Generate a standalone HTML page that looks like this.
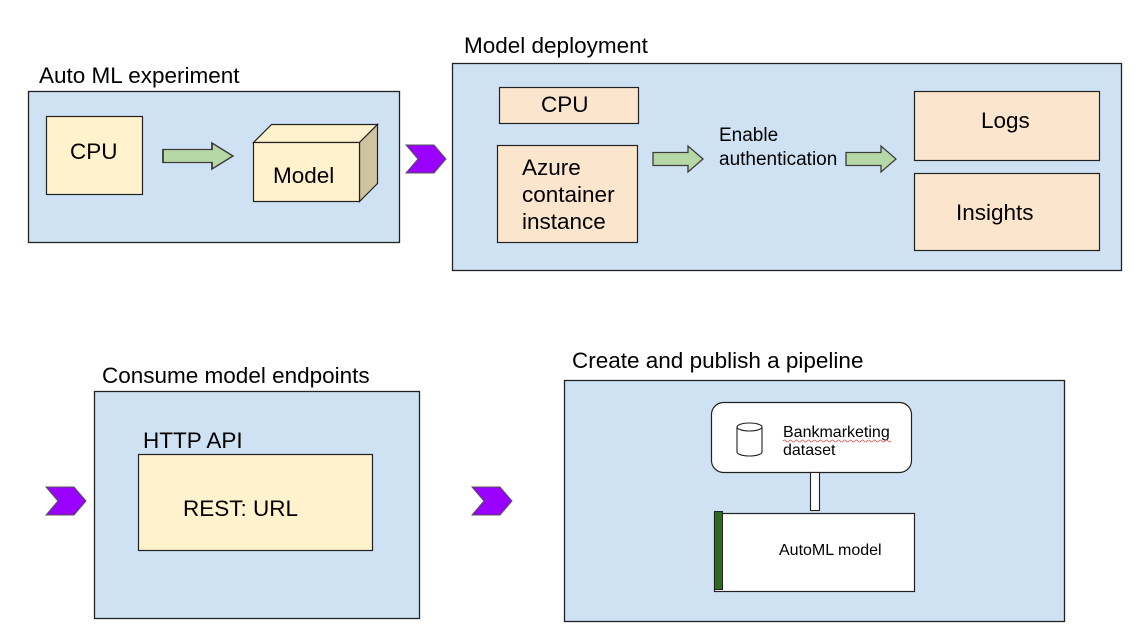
<!DOCTYPE html>
<html><head><meta charset="utf-8"><style>
html,body{margin:0;padding:0;background:#fff;}
svg{display:block;font-family:"Liberation Sans",Arial,sans-serif;}
</style></head><body>
<svg width="1135" height="637" viewBox="0 0 1135 637" xmlns="http://www.w3.org/2000/svg">
<defs>
<g id="garrow"><path d="M0,-6.5 H35 V-13 L50,0 L35,13 V6.5 H0 Z" fill="#b5d8a6" stroke="#3c3c3c" stroke-width="1.3"/></g>
<g id="chev"><path d="M0,0 H28 L40,14 L28,28 H0 L12,14 Z" fill="#9900ff" stroke="#555" stroke-width="1"/></g>
</defs>
<g fill="#000" font-size="22.5">
<text x="39" y="83">Auto ML experiment</text>
<text x="464" y="53">Model deployment</text>
<text x="102" y="383">Consume model endpoints</text>
<text x="572" y="368">Create and publish a pipeline</text>
</g>
<!-- Panel 1 -->
<rect x="28.5" y="91.5" width="371" height="151" fill="#cfe2f3" stroke="#222" stroke-width="1.3"/>
<rect x="46.5" y="116.5" width="96" height="78" fill="#fff2cc" stroke="#222" stroke-width="1.2"/>
<text x="70" y="159" font-size="22.5">CPU</text>
<use href="#garrow" transform="translate(163,156) scale(1.4,1)"/>
<path d="M253.5,142.5 L271.5,124.5 H377.5 L359.5,142.5 Z" fill="#fff2cc" stroke="#222" stroke-width="1.2"/>
<path d="M359.5,142.5 L377.5,124.5 V183.5 L359.5,201.5 Z" fill="#d0c4a0" stroke="#222" stroke-width="1.2"/>
<rect x="253.5" y="142.5" width="106" height="59" fill="#fff2cc" stroke="#222" stroke-width="1.2"/>
<text x="273" y="183" font-size="22.5">Model</text>
<use href="#chev" transform="translate(406,145)"/>
<!-- Panel 2 -->
<rect x="452.5" y="63.5" width="669" height="207" fill="#cfe2f3" stroke="#222" stroke-width="1.3"/>
<rect x="499.5" y="87.5" width="139" height="36" fill="#fce5cd" stroke="#222" stroke-width="1.2"/>
<text x="541" y="112" font-size="22.5">CPU</text>
<rect x="497.5" y="145.5" width="140" height="97" fill="#fce5cd" stroke="#222" stroke-width="1.2"/>
<g font-size="22.5"><text x="522" y="175">Azure</text><text x="522" y="202">container</text><text x="522" y="229">instance</text></g>
<use href="#garrow" transform="translate(653,159)"/>
<g font-size="19"><text x="719" y="141">Enable</text><text x="719" y="165">authentication</text></g>
<use href="#garrow" transform="translate(846,159)"/>
<rect x="914.5" y="91.5" width="185" height="69" fill="#fce5cd" stroke="#222" stroke-width="1.2"/>
<text x="981" y="128" font-size="22.5">Logs</text>
<rect x="914.5" y="173.5" width="185" height="77" fill="#fce5cd" stroke="#222" stroke-width="1.2"/>
<text x="956" y="220" font-size="22.5">Insights</text>
<!-- Panel 3 -->
<use href="#chev" transform="translate(46,487)"/>
<rect x="94.5" y="391.5" width="325" height="227" fill="#cfe2f3" stroke="#222" stroke-width="1.3"/>
<text x="143" y="448" font-size="22.5">HTTP API</text>
<rect x="138.5" y="454.5" width="234" height="96" fill="#fff2cc" stroke="#222" stroke-width="1.2"/>
<text x="183" y="516" font-size="22.5">REST: URL</text>
<!-- Panel 4 -->
<use href="#chev" transform="translate(472,487)"/>
<rect x="564.5" y="380.5" width="500" height="241" fill="#cfe2f3" stroke="#222" stroke-width="1.3"/>
<rect x="711.5" y="402.5" width="200" height="70" rx="12" fill="#fff" stroke="#222" stroke-width="1.2"/>
<path d="M737,427 V452 A12.5,4 0 0 0 762,452 V427" fill="#fff" stroke="#222" stroke-width="1.1"/>
<ellipse cx="749.5" cy="427" rx="12.5" ry="4" fill="#fff" stroke="#222" stroke-width="1.1"/>
<g font-size="16"><text x="783" y="437">Bankmarketing</text><text x="783" y="455">dataset</text></g>
<path d="M783,441 q1.5,-2 3,0 t3,0 t3,0 t3,0 t3,0 t3,0 t3,0 t3,0 t3,0 t3,0 t3,0 t3,0 t3,0 t3,0 t3,0 t3,0 t3,0 t3,0 t3,0 t3,0 t3,0 t3,0 t3,0 t3,0 t3,0 t3,0 t3,0 t3,0 t3,0 t3,0 t3,0 t3,0 t3,0 t3,0 t3,0 t3,0" fill="none" stroke="#e05050" stroke-width="0.8"/>
<rect x="810.5" y="472.5" width="9" height="38" fill="#fff" stroke="#222" stroke-width="1.1"/>
<rect x="714.5" y="513.5" width="200" height="78" fill="#fff" stroke="#222" stroke-width="1.2"/>
<rect x="714.5" y="511.5" width="8" height="78" fill="#2e6b1e" stroke="#222" stroke-width="1"/>
<text x="779" y="555" font-size="16">AutoML model</text>
</svg>
</body></html>
